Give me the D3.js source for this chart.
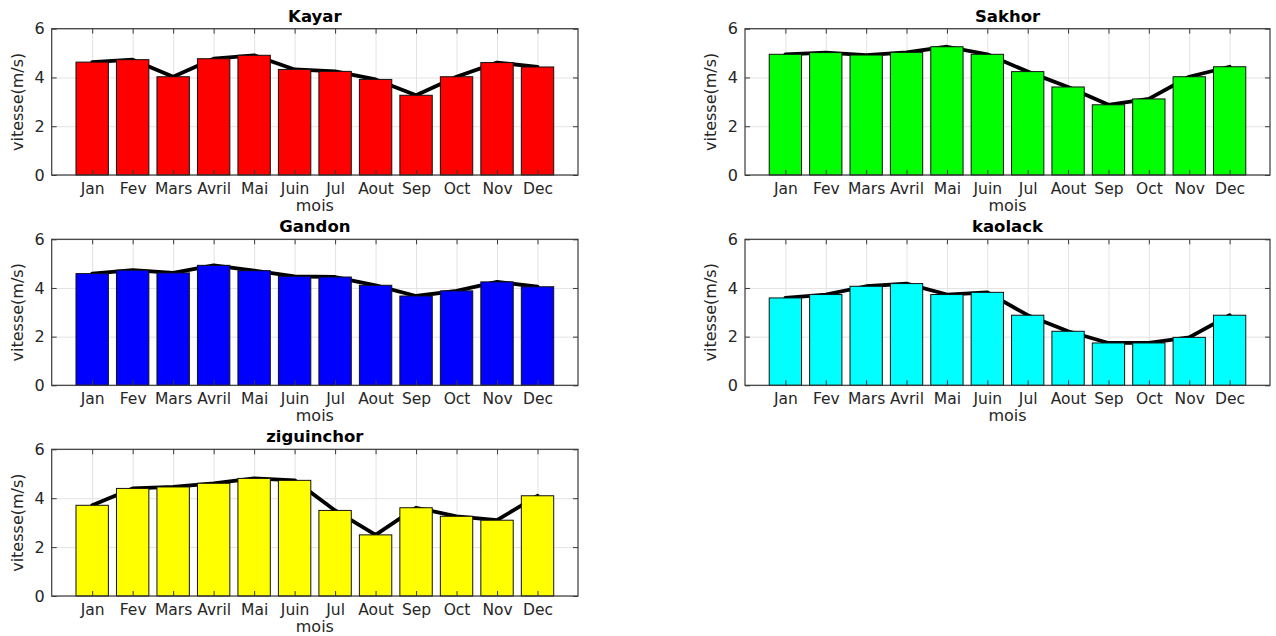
<!DOCTYPE html>
<html>
<head>
<meta charset="utf-8">
<script src="https://cdn.jsdelivr.net/npm/d3@7"></script>
<style>
  html, body { margin: 0; padding: 0; background: #fff; }
  svg { display: block; }
  text { font-family: "DejaVu Sans", sans-serif; }
</style>
</head>
<body>
<svg id="chart" width="1276" height="636"></svg>
<script>
// ---- data ----
const months = ["Jan","Fev","Mars","Avril","Mai","Juin","Jul","Aout","Sep","Oct","Nov","Dec"];
const yTicks = [0, 2, 4, 6];
const kayar      = [4.63, 4.73, 4.03, 4.77, 4.91, 4.33, 4.25, 3.92, 3.27, 4.03, 4.61, 4.43];
const sakhor     = [4.95, 5.02, 4.92, 5.03, 5.26, 4.95, 4.24, 3.61, 2.88, 3.12, 4.03, 4.44];
const gandon     = [4.59, 4.73, 4.62, 4.93, 4.71, 4.48, 4.45, 4.11, 3.67, 3.88, 4.25, 4.05];
const kaolack    = [3.59, 3.73, 4.07, 4.18, 3.73, 3.82, 2.88, 2.22, 1.74, 1.74, 1.97, 2.88];
const ziguinchor = [3.71, 4.40, 4.46, 4.61, 4.81, 4.73, 3.50, 2.50, 3.61, 3.26, 3.10, 4.10];
const titles = ["Kayar", "Sakhor", "Gandon", "kaolack", "ziguinchor"];
const xLabel = "mois";
const yLabel = "vitesse(m/s)";

// ---- layout ----
const colX = [[51.7, 578], [745, 1270]];
const rowY = [[28.7, 175], [239.3, 385.3], [449.3, 596]];
const panels = [
  { title: titles[0], values: kayar,      color: "#ff0000", col: 0, row: 0 },
  { title: titles[1], values: sakhor,     color: "#00ff00", col: 1, row: 0 },
  { title: titles[2], values: gandon,     color: "#0000ff", col: 0, row: 1 },
  { title: titles[3], values: kaolack,    color: "#00ffff", col: 1, row: 1 },
  { title: titles[4], values: ziguinchor, color: "#ffff00", col: 0, row: 2 }
];

const svg = d3.select("#chart");
const axisColor = "#3a3a3a";
const textColor = "#262626";

panels.forEach(p => {
  const [x0, x1] = colX[p.col];
  const [y0, y1] = rowY[p.row];
  const x = d3.scaleLinear().domain([0, 13]).range([x0, x1]);
  const y = d3.scaleLinear().domain([0, 6]).range([y1, y0]);
  const w = x1 - x0, h = y1 - y0;
  const idx = d3.range(1, 13);
  const g = svg.append("g");

  // grid
  g.append("g").attr("transform", `translate(0,${y1})`)
    .call(d3.axisBottom(x).tickValues(idx).tickSize(-h).tickFormat(""))
    .call(s => s.select(".domain").remove())
    .call(s => s.selectAll("line").attr("stroke", "#e3e3e3").attr("stroke-width", 1));
  g.append("g").attr("transform", `translate(${x0},0)`)
    .call(d3.axisLeft(y).tickValues(yTicks).tickSize(-w).tickFormat(""))
    .call(s => s.select(".domain").remove())
    .call(s => s.selectAll("line").attr("stroke", "#e3e3e3").attr("stroke-width", 1));

  // line (behind bars)
  const line = d3.line().x((d, i) => x(i + 1)).y(d => y(d));
  g.append("path").datum(p.values)
    .attr("d", line).attr("fill", "none")
    .attr("stroke", "#000").attr("stroke-width", 3.8)
    .attr("stroke-linejoin", "round").attr("stroke-linecap", "round");

  // bars
  const bw = (x(1) - x(0)) * 0.8;
  g.selectAll("rect.bar").data(p.values).enter().append("rect")
    .attr("class", "bar")
    .attr("x", (d, i) => x(i + 1) - bw / 2)
    .attr("width", bw)
    .attr("y", d => y(d))
    .attr("height", d => y(0) - y(d))
    .attr("fill", p.color)
    .attr("stroke", "#111").attr("stroke-width", 1);

  // box
  g.append("rect").attr("x", x0).attr("y", y0).attr("width", w).attr("height", h)
    .attr("fill", "none").attr("stroke", axisColor).attr("stroke-width", 1.2);

  // inward tick marks, all four sides
  const tickLen = 5;
  g.append("g").attr("transform", `translate(0,${y1})`)
    .call(d3.axisBottom(x).tickValues(idx).tickSize(-tickLen).tickFormat(""))
    .call(s => s.select(".domain").remove())
    .call(s => s.selectAll("line").attr("stroke", axisColor));
  g.append("g").attr("transform", `translate(0,${y0})`)
    .call(d3.axisTop(x).tickValues(idx).tickSize(-tickLen).tickFormat(""))
    .call(s => s.select(".domain").remove())
    .call(s => s.selectAll("line").attr("stroke", axisColor));
  g.append("g").attr("transform", `translate(${x0},0)`)
    .call(d3.axisLeft(y).tickValues(yTicks).tickSize(-tickLen).tickFormat(""))
    .call(s => s.select(".domain").remove())
    .call(s => s.selectAll("line").attr("stroke", axisColor));
  g.append("g").attr("transform", `translate(${x1},0)`)
    .call(d3.axisRight(y).tickValues(yTicks).tickSize(-tickLen).tickFormat(""))
    .call(s => s.select(".domain").remove())
    .call(s => s.selectAll("line").attr("stroke", axisColor));

  // x tick labels
  const xa = g.append("g").attr("transform", `translate(0,${y1})`)
    .call(d3.axisBottom(x).tickValues(idx).tickSize(0).tickPadding(8)
      .tickFormat(i => months[i - 1]));
  xa.select(".domain").remove();
  xa.selectAll("text").attr("font-size", 15.5).attr("fill", textColor)
    .attr("font-family", "DejaVu Sans, sans-serif");

  // y tick labels
  const ya = g.append("g").attr("transform", `translate(${x0},0)`)
    .call(d3.axisLeft(y).tickValues(yTicks).tickSize(0).tickPadding(7)
      .tickFormat(d3.format("d")));
  ya.select(".domain").remove();
  ya.selectAll("text").attr("font-size", 16).attr("fill", textColor)
    .attr("font-family", "DejaVu Sans, sans-serif");

  // axis labels
  g.append("text").attr("x", (x0 + x1) / 2).attr("y", y1 + 36)
    .attr("text-anchor", "middle").attr("font-size", 16).attr("fill", textColor)
    .text(xLabel);
  g.append("text")
    .attr("transform", `translate(${x0 - 29},${(y0 + y1) / 2}) rotate(-90)`)
    .attr("text-anchor", "middle").attr("font-size", 16).attr("fill", textColor)
    .text(yLabel);

  // title
  g.append("text").attr("x", (x0 + x1) / 2).attr("y", y0 - 7)
    .attr("text-anchor", "middle").attr("font-size", 16.5).attr("font-weight", "bold")
    .attr("fill", "#000").text(p.title);
});
</script>
</body>
</html>
